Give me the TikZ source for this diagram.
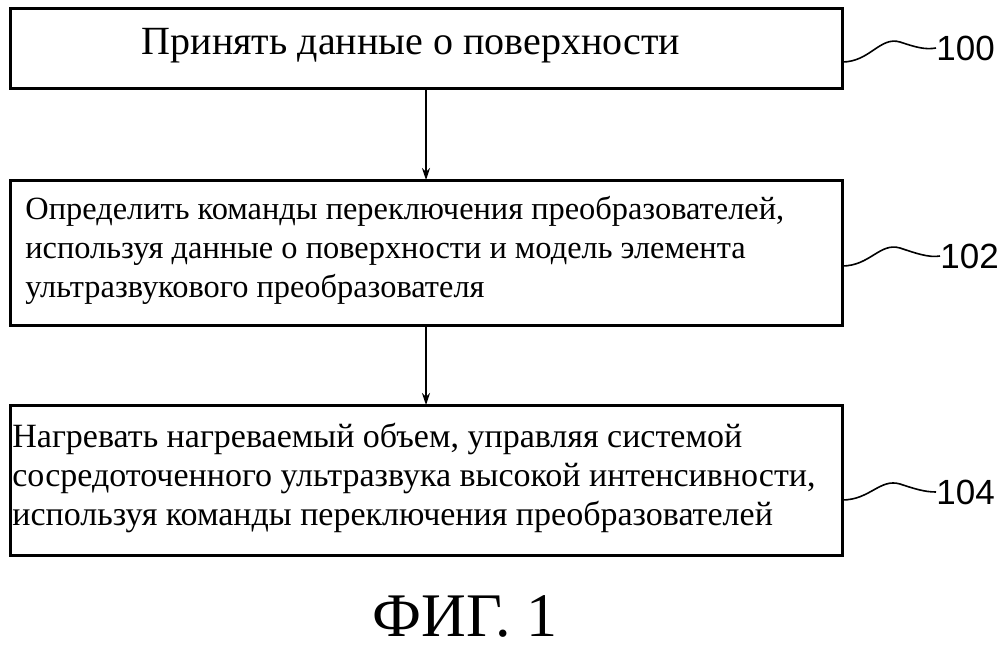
\documentclass[tikz,border=0pt]{standalone}
\usepackage{fontspec}
\setmainfont{Liberation Serif}
\newfontfamily\lab{Liberation Sans}
\usetikzlibrary{arrows.meta}
\begin{document}
\begin{tikzpicture}[x=0.5pt,y=-0.5pt,
 boxs/.style={draw,line width=1.5pt},
 arr/.style={-{Stealth[length=6pt,width=4pt]},line width=0.8pt},
 lead/.style={line width=0.8pt},
 labt/.style={font=\lab\fontsize{17.5}{17.5}\selectfont,anchor=west,inner sep=0pt},
 txt/.style={align=left,anchor=north west,inner sep=0pt}]
\useasboundingbox (0,0) rectangle (1000,648);
\draw[boxs] (10,8) rectangle (842,88);
\node[font=\fontsize{20}{20}\selectfont] (t1) at (411,46) {Принять данные о поверхности};
\draw[boxs] (10,180) rectangle (842,325);
\node[txt,font=\fontsize{16.2}{19.5}\selectfont] (t2) at (25,196) {Определить команды переключения преобразователей,\\используя данные о поверхности и модель элемента\\ультразвукового преобразователя};
\draw[boxs] (10,405) rectangle (842,555);
\node[txt,font=\fontsize{17}{19.5}\selectfont] (t3) at (12,423) {Нагревать нагреваемый объем, управляя системой\\сосредоточенного ультразвука высокой интенсивности,\\используя команды переключения преобразователей};
\coordinate (a1) at (426,89); \coordinate (b1) at (426,180);
\coordinate (a2) at (426,326); \coordinate (b2) at (426,405);
\draw[arr] (a1) -- (b1);
\draw[arr] (a2) -- (b2);
\node[labt] (l1) at (936,48) {100};
\node[labt] (l2) at (940,256) {102};
\node[labt] (l3) at (936,492) {104};
\coordinate (s1) at (842,62); \coordinate (s2) at (842,266); \coordinate (s3) at (842,500);
\draw[lead] (s1) .. controls (870,62) and (880,36) .. (900,42) .. controls (915,47) and (925,50) .. (l1.west);
\draw[lead] (s2) .. controls (870,266) and (880,242) .. (900,248) .. controls (915,253) and (929,258) .. (l2.west);
\draw[lead] (s3) .. controls (870,500) and (880,478) .. (900,484) .. controls (915,489) and (925,492) .. (l3.west);
\node[font=\fontsize{31}{31}\selectfont] (fig) at (465,616) {ФИГ. 1};
\end{tikzpicture}
\end{document}
